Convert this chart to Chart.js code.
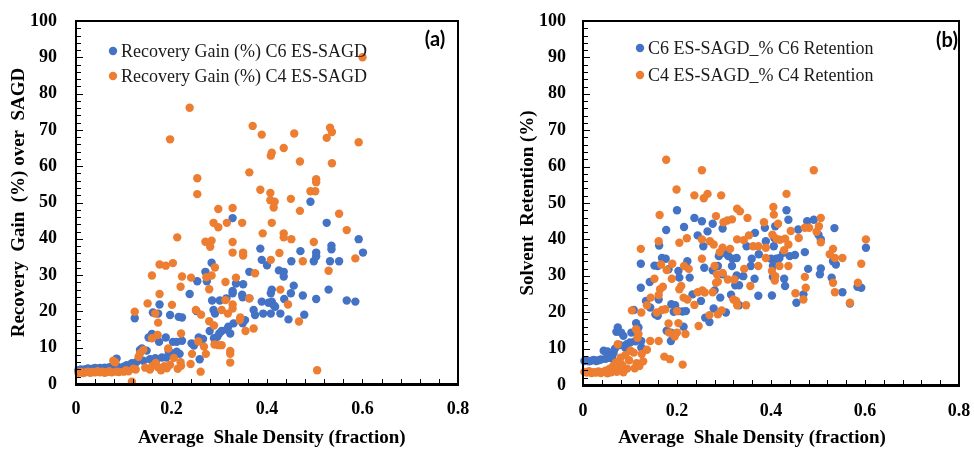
<!DOCTYPE html>
<html>
<head>
<meta charset="utf-8">
<script src="https://cdn.jsdelivr.net/npm/chart.js@4/dist/chart.umd.min.js"></script>
<style>
  html, body { margin: 0; padding: 0; background: #fff; overflow: hidden; }
  #wrap { position: relative; width: 974px; height: 449px; }
  .panel { position: absolute; top: 0; width: 487px; height: 449px; }
  canvas { display: block; }
  .frame { position: absolute; box-sizing: border-box; border-style: solid; border-color: #000;
           border-width: 2px 2px 3px 2px; pointer-events: none; }
  .tick { position: absolute; background: #000; pointer-events: none; }
  #pa { left: 0; }
  #pb { left: 487px; }
</style>
</head>
<body>
<div id="wrap">
  <div class="panel" id="pa"><canvas id="ca" width="487" height="449"></canvas></div>
  <div class="panel" id="pb"><canvas id="cb" width="487" height="449"></canvas></div>
</div>
<script>
// ---------- DATA ----------
const xTickLabels = ['0', '0.2', '0.4', '0.6', '0.8'];
const yTickLabels = ['0','10','20','30','40','50','60','70','80','90','100'];

const gainLabels = ['Recovery Gain (%) C6 ES-SAGD', 'Recovery Gain (%) C4 ES-SAGD'];
const retLabels = ['C6 ES-SAGD_% C6 Retention', 'C4 ES-SAGD_% C4 Retention'];

// Panel (a): recovery gain over SAGD, [shale density, gain %]
const gainC6 = [
  [0.005,3.8],[0.01,4.0],[0.015,3.9],[0.02,4.1],[0.025,4.3],[0.03,4.0],[0.035,4.2],[0.04,4.4],[0.045,4.1],[0.05,4.4],
  [0.055,4.2],[0.06,4.5],[0.065,4.3],[0.07,4.6],[0.075,4.4],[0.08,4.3],[0.085,7.0],[0.088,4.7],
  [0.1,4.8],[0.106,5.2],[0.112,5.0],[0.117,5.7],[0.122,5.3],[0.127,6.1],[0.134,9.4],[0.138,9.8],[0.141,6.4],[0.148,9.2],
  [0.152,12.8],[0.155,6.8],[0.159,13.8],[0.166,7.1],[0.169,6.8],[0.174,11.6],[0.18,7.3],[0.188,12.8],[0.189,7.3],
  [0.194,9.1],[0.201,8.4],[0.203,11.6],[0.211,8.9],[0.211,11.6],[0.217,8.3],[0.222,11.9],[0.242,11.2],[0.247,10.6],
  [0.257,12.8],[0.259,6.8],[0.266,12.4],[0.289,12.6],[0.296,13.0],[0.28,14.6],[0.3,13.9],[0.305,14.6],[0.323,13.9],
  [0.319,15.8],[0.316,15.0],[0.33,16.7],[0.349,16.7],[0.354,17.6],
  [0.123,18.1],[0.161,19.7],[0.172,19.4],[0.175,21.9],[0.197,19.0],[0.215,18.5],[0.222,18.3],[0.252,20.1],[0.288,20.4],
  [0.291,19.4],[0.372,20.4],[0.375,19.0],[0.392,19.4],[0.408,19.4],[0.428,19.4],[0.478,19.1],[0.445,17.8],
  [0.238,24.8],[0.254,28.3],[0.274,28.3],[0.271,30.9],[0.284,33.4],[0.285,23.0],[0.301,23.0],[0.315,23.6],[0.328,25.6],
  [0.328,25.0],[0.335,27.7],[0.35,27.5],[0.348,24.6],[0.349,23.9],[0.363,23.6],[0.363,30.9],[0.389,22.7],[0.403,22.4],
  [0.41,22.7],[0.414,21.7],[0.417,21.3],[0.41,26.0],[0.408,25.0],[0.436,23.4],[0.45,25.0],[0.456,27.1],[0.475,24.4],
  [0.503,23.4],[0.529,26.0],[0.567,23.0],[0.585,22.7],
  [0.328,45.7],[0.386,37.3],[0.389,34.2],[0.4,32.7],[0.425,31.3],[0.435,30.9],[0.435,29.6],[0.451,33.8],[0.47,36.6],
  [0.491,50.2],[0.498,33.8],[0.503,36.2],[0.503,35.2],[0.525,44.4],[0.532,33.8],[0.535,38.1],[0.535,37.1],[0.551,33.8],
  [0.592,39.9],[0.601,36.2]
];
const gainC4 = [
  [0.005,3.1],[0.01,3.3],[0.015,3.0],[0.02,3.2],[0.025,3.4],[0.03,3.1],[0.035,3.3],[0.04,3.2],[0.045,3.5],[0.05,3.2],
  [0.055,3.4],[0.06,3.1],[0.065,3.3],[0.07,3.5],[0.075,3.2],[0.078,6.4],[0.082,6.0],[0.085,3.4],[0.09,3.3],[0.1,3.4],
  [0.105,3.8],[0.11,3.5],[0.117,0.6],[0.12,4.2],[0.125,4.0],[0.131,7.5],[0.134,8.4],[0.141,9.4],[0.145,4.5],[0.155,4.0],
  [0.16,5.0],[0.167,5.8],[0.172,4.6],[0.178,3.8],[0.185,4.9],[0.19,4.3],[0.197,5.3],[0.205,7.2],[0.213,4.2],[0.219,6.0],
  [0.22,5.0],[0.193,9.8],
  [0.6,90],[0.238,76.1],[0.197,67.4],[0.37,71.1],[0.389,68.7],[0.457,69.0],[0.435,65.0],[0.408,62.9],[0.41,63.7],
  [0.532,70.6],[0.536,69.4],[0.525,67.8],[0.592,66.6],[0.536,60.8],[0.469,61.3],[0.363,58.3],[0.254,56.7],[0.254,52.3],
  [0.503,56.4],[0.503,55.6],[0.386,53.5],[0.407,52.6],[0.491,53.1],[0.501,53.1],[0.407,50.6],[0.416,50.2],[0.45,51.0],
  [0.414,48.6],[0.469,47.7],[0.551,46.9],[0.328,48.5],[0.298,48.2],[0.288,44.4],[0.298,43.2],[0.316,44.4],[0.348,44.4],
  [0.41,44.4],[0.391,41.5],[0.435,41.5],[0.435,40.4],[0.451,39.9],[0.567,42.4],[0.212,40.4],[0.271,39.2],[0.284,39.5],
  [0.281,37.8],[0.328,39.1],[0.498,39.1],[0.328,36.2],[0.35,36.2],[0.35,35.4],[0.426,36.1],[0.408,34.2],[0.585,34.6],
  [0.475,33.8],[0.175,32.9],[0.188,32.6],[0.203,33.3],[0.159,29.9],[0.222,29.6],[0.241,29.3],[0.291,32.1],[0.284,29.9],
  [0.273,29.4],[0.335,29.3],[0.375,30.5],[0.313,28.1],[0.529,31.2],[0.219,26.8],[0.279,26.1],[0.428,26.0],[0.175,24.8],
  [0.313,23.1],[0.363,23.6],[0.328,21.9],[0.328,20.8],[0.15,22.2],[0.201,21.8],[0.251,20.4],[0.262,19.1],[0.166,19.4],
  [0.305,20.4],[0.318,19.4],[0.344,18.3],[0.343,17.6],[0.444,21.9],[0.467,17.2],[0.123,19.9],[0.172,16.9],[0.279,17.3],
  [0.289,16.1],[0.355,14.6],[0.372,15.3],[0.22,13.9],[0.159,12.6],[0.171,13.5],[0.256,11.7],[0.29,10.9],[0.299,10.7],
  [0.305,10.7],[0.268,10.3],[0.323,9.1],[0.323,8.3],[0.243,8.3],[0.272,8.3],[0.323,5.9],[0.261,3.4],[0.505,3.8],[0.24,5.5]
];

// Panel (b): solvent retention, [shale density, retention %]
const retC6 = [
  [0.003,6.6],[0.008,6.8],[0.013,6.5],[0.018,6.7],[0.023,6.9],[0.028,6.6],[0.033,6.8],[0.038,7.0],[0.044,9.4],[0.048,7.2],
  [0.052,9.2],[0.055,7.5],[0.058,8.0],[0.062,7.3],[0.065,8.8],[0.068,10.0],[0.071,14.6],[0.074,15.8],[0.078,11.0],
  [0.081,14.4],[0.086,13.5],[0.09,10.2],[0.093,11.2],[0.1,11.7],[0.103,14.4],[0.108,20.6],[0.111,12.0],[0.113,17.0],
  [0.118,15.8],[0.124,10.3],[0.124,12.1],
  [0.2,48.0],[0.433,48.0],[0.237,45.9],[0.253,45.0],[0.437,45.4],[0.177,42.6],[0.215,43.4],[0.244,41.1],[0.256,38.1],
  [0.265,42.2],[0.276,44.3],[0.297,43.0],[0.409,43.6],[0.458,42.7],[0.477,45.0],[0.491,45.4],[0.535,43.1],[0.389,39.5],
  [0.387,43.2],[0.407,40.4],[0.406,38.1],[0.501,41.3],[0.506,40.0],[0.602,37.7],[0.162,38.3],[0.366,41.8],[0.348,38.1],
  [0.318,34.7],[0.327,34.9],[0.309,35.4],[0.289,35.4],[0.3,36.3],[0.374,35.9],[0.359,34.7],[0.4,34.7],[0.411,34.7],
  [0.418,34.9],[0.426,36.3],[0.44,35.4],[0.451,35.7],[0.472,36.5],[0.532,34.0],[0.538,33.1],[0.123,33.3],[0.152,32.8],
  [0.159,32.7],[0.168,34.9],[0.176,34.7],[0.182,31.8],[0.203,31.3],[0.205,29.5],[0.222,34.0],[0.227,29.5],[0.258,32.2],
  [0.276,31.5],[0.287,32.7],[0.297,30.4],[0.317,32.7],[0.327,30.1],[0.341,29.9],[0.357,32.7],[0.365,29.2],[0.404,32.7],
  [0.404,29.7],[0.479,31.9],[0.506,32.0],[0.504,30.4],[0.529,29.5],[0.584,27.0],[0.592,26.7],[0.552,25.5],[0.568,22.4],
  [0.428,29.2],[0.43,27.2],[0.454,22.6],[0.469,24.9],[0.402,24.6],[0.373,24.5],[0.123,26.7],[0.134,23.1],[0.142,28.3],
  [0.143,21.3],[0.161,23.5],[0.154,19.4],[0.159,19.0],[0.188,22.2],[0.193,20.1],[0.196,21.9],[0.203,20.3],[0.212,20.2],
  [0.219,20.3],[0.214,16.0],[0.233,24.9],[0.251,23.1],[0.26,18.5],[0.269,17.3],[0.278,21.0],[0.28,26.0],[0.292,24.0],
  [0.304,19.9],[0.315,24.8],[0.324,27.4],[0.332,21.9],[0.332,27.4],[0.178,14.9],[0.187,12.1],[0.187,14.4]
];
const retC4 = [
  [0.003,3.6],[0.008,3.4],[0.013,3.8],[0.018,3.3],[0.023,3.5],[0.028,3.4],[0.033,3.7],[0.038,3.3],[0.043,3.6],[0.048,3.9],
  [0.052,3.2],[0.056,4.4],[0.06,3.5],[0.063,5.0],[0.066,4.1],[0.07,6.2],[0.072,3.6],[0.074,11.2],[0.076,4.8],[0.08,7.5],
  [0.083,5.6],[0.086,3.5],[0.09,8.2],[0.094,4.5],[0.098,6.8],[0.101,9.4],[0.104,20.5],[0.108,8.9],[0.11,4.6],[0.113,15.3],
  [0.114,6.0],[0.116,13.0],[0.118,14.0],[0.12,5.2],[0.124,19.9],[0.125,8.5],[0.128,6.5],[0.136,9.7],[0.143,12.1],[0.161,12.1],
  [0.177,61.9],[0.253,59.0],[0.491,59.0],[0.199,53.7],[0.237,52.1],[0.257,51.3],[0.265,52.5],[0.294,52.1],[0.433,52.5],
  [0.163,46.7],[0.328,48.4],[0.334,47.7],[0.405,48.9],[0.35,45.9],[0.506,45.9],[0.283,46.4],[0.299,44.7],[0.307,45.2],
  [0.317,45.5],[0.385,44.7],[0.406,46.8],[0.415,44.3],[0.442,42.3],[0.472,43.2],[0.481,43.2],[0.502,43.6],[0.497,42.1],
  [0.161,39.5],[0.123,37.4],[0.205,39.1],[0.221,40.3],[0.253,40.0],[0.27,39.5],[0.278,38.6],[0.297,37.7],[0.291,36.5],
  [0.313,37.4],[0.328,40.0],[0.342,39.8],[0.353,41.1],[0.362,38.1],[0.373,38.1],[0.389,37.7],[0.403,41.3],[0.412,40.1],
  [0.419,39.9],[0.43,40.2],[0.437,38.6],[0.459,40.4],[0.506,39.2],[0.602,40.0],[0.428,37.0],[0.532,37.4],[0.525,35.9],
  [0.536,34.9],[0.552,34.9],[0.592,33.3],[0.166,33.1],[0.19,33.3],[0.215,32.7],[0.225,31.9],[0.178,31.6],[0.152,29.2],
  [0.189,29.2],[0.209,27.2],[0.205,26.3],[0.253,34.7],[0.28,32.7],[0.285,30.4],[0.297,30.8],[0.308,29.0],[0.322,29.0],
  [0.343,31.9],[0.356,27.2],[0.373,32.7],[0.389,34.9],[0.402,31.3],[0.409,29.9],[0.408,28.7],[0.418,32.7],[0.437,32.7],
  [0.472,29.7],[0.474,26.7],[0.452,25.2],[0.469,23.5],[0.532,28.1],[0.536,25.5],[0.568,22.6],[0.585,28.1],[0.164,26.3],
  [0.17,27.0],[0.161,24.7],[0.144,24.0],[0.136,21.9],[0.168,20.6],[0.175,20.8],[0.157,19.9],[0.2,20.3],[0.214,24.0],
  [0.222,23.5],[0.244,25.5],[0.254,26.0],[0.259,25.4],[0.276,25.5],[0.283,28.1],[0.287,28.4],[0.237,22.0],[0.246,16.2],
  [0.269,19.2],[0.287,19.4],[0.295,20.5],[0.32,23.5],[0.326,23.1],[0.328,21.9],[0.347,21.9],[0.203,17.0],[0.2,14.4],
  [0.182,16.9],[0.183,14.4],[0.218,14.0],[0.195,13.3],[0.173,7.8],[0.185,7.1],[0.212,5.6]
];

// ---------- STYLE ----------
const BLUE = '#4472C4';
const ORANGE = '#ED7D31';
const SERIF = '"Liberation Serif", "Times New Roman", serif';

function toPts(arr) { return arr.map(p => ({ x: p[0], y: p[1] })); }

// legend and panel tag
const PANEL = {};
const decorPlugin = {
  id: 'decor',
  afterDraw(chart) {
    const ctx = chart.ctx;
    const o = PANEL[chart.canvas.id];
    ctx.save();
    ctx.font = '18px ' + SERIF;
    ctx.textBaseline = 'middle';
    ctx.textAlign = 'left';
    chart.data.datasets.forEach((ds, i) => {
      const y = o.legendY[i];
      ctx.fillStyle = ds.backgroundColor;
      ctx.beginPath();
      ctx.arc(o.legendX, y, 4.2, 0, Math.PI * 2);
      ctx.fill();
      ctx.fillStyle = '#1a1a1a';
      ctx.fillText(ds.label, o.legendX + 8, y + 1);
    });
    ctx.font = 'bold 20px Lato, "Liberation Sans", sans-serif';
    ctx.textAlign = 'center';
    ctx.fillStyle = '#000';
    ctx.fillText(o.tag, o.tagX, o.tagY);
    ctx.restore();
  }
};

// plot frame and inside tick marks as page elements, placed from the chart's own scales
function addFrame(chart, panelId) {
  const host = document.getElementById(panelId);
  const a = chart.chartArea;
  const xs = chart.scales.x, ys = chart.scales.y;
  const el = (cls, l, t, w, h) => {
    const d = document.createElement('div');
    d.className = cls;
    d.style.left = l + 'px'; d.style.top = t + 'px';
    d.style.width = w + 'px'; d.style.height = h + 'px';
    host.appendChild(d);
  };
  const L = Math.round(a.left), T = Math.round(a.top), R = Math.round(a.right), B = Math.round(a.bottom);
  el('frame', L - 1, T - 1, R - L + 2, B - T + 3);
  for (let i = 1; i < 50; i++) {
    const py = Math.round(ys.getPixelForValue(i * 2));
    el('tick', L + 1, py, (i % 5 === 0) ? 6 : 4, 1);
  }
  for (let i = 1; i < 20; i++) {
    const px = Math.round(xs.getPixelForValue(i * 0.04));
    el('tick', px, B - 5, 1, 5);
  }
}

function makeChart(canvasId, panelId, cfg) {
  PANEL[canvasId] = cfg;
  const zeroPad = (s) => { s.paddingTop = 0; s.paddingBottom = 0; s.paddingLeft = 0; s.paddingRight = 0; };
  const chart = new Chart(document.getElementById(canvasId), {
    type: 'scatter',
    data: {
      datasets: [
        { label: cfg.labels[0], data: toPts(cfg.c6), backgroundColor: BLUE,
          pointRadius: 4.2, pointBorderWidth: 0, order: 1, clip: false },
        { label: cfg.labels[1], data: toPts(cfg.c4), backgroundColor: ORANGE,
          pointRadius: 4.2, pointBorderWidth: 0, order: 0, clip: false }
      ]
    },
    options: {
      responsive: false,
      animation: false,
      events: [],
      layout: { padding: { left: 0, top: cfg.padTop, right: cfg.padRight, bottom: 0 } },
      plugins: { legend: { display: false }, tooltip: { enabled: false } },
      scales: {
        x: {
          type: 'linear', position: 'bottom', min: 0, max: 0.8,
          afterFit(s) { s.height = cfg.xAxisH; zeroPad(s); },
          grid: { display: false, drawTicks: false },
          border: { display: false },
          ticks: {
            stepSize: 0.2, maxRotation: 0, padding: cfg.xTickPad, color: '#000',
            font: { family: SERIF, size: 18, weight: 'bold' },
            callback: (v) => xTickLabels[Math.round(v / 0.2)]
          },
          title: {
            display: true, text: cfg.xTitle, color: '#000',
            font: { family: SERIF, size: 19, weight: 'bold' },
            padding: { top: 0, bottom: 0 }
          }
        },
        y: {
          type: 'linear', position: 'left', min: 0, max: 100,
          afterFit(s) { s.width = cfg.yAxisW; zeroPad(s); },
          grid: { display: false, drawTicks: false },
          border: { display: false },
          ticks: {
            stepSize: 10, padding: cfg.yTickPad, color: '#000',
            font: { family: SERIF, size: 18, weight: 'bold' },
            callback: (v) => yTickLabels[Math.round(v / 10)]
          },
          title: {
            display: true, text: cfg.yTitle, color: '#000',
            font: { family: SERIF, size: 19, weight: 'bold' },
            padding: { top: cfg.yTitlePad, bottom: 0 }
          }
        }
      }
    },
    plugins: [decorPlugin]
  });
  addFrame(chart, panelId);
  return chart;
}

makeChart('ca', 'pa', {
  labels: gainLabels, c6: gainC6, c4: gainC4,
  padTop: 21, padRight: 29, xAxisH: 65, yAxisW: 76, xTickPad: 15, yTickPad: 19, yTitlePad: 8,
  xTitle: '  Average  Shale Density (fraction)',
  yTitle: 'Recovery  Gain  (%) over  SAGD',
  legendX: 113, legendY: [51, 76], tag: '(a)', tagX: 435, tagY: 40
});

makeChart('cb', 'pb', {
  labels: retLabels, c6: retC6, c4: retC4,
  padTop: 21, padRight: 15, xAxisH: 64, yAxisW: 96, xTickPad: 16, yTickPad: 17, yTitlePad: 30,
  xTitle: 'Average  Shale Density (fraction)        ',
  yTitle: 'Solvent  Retention (%)',
  legendX: 153, legendY: [48, 75], tag: '(b)', tagX: 460, tagY: 41
});
</script>
</body>
</html>
